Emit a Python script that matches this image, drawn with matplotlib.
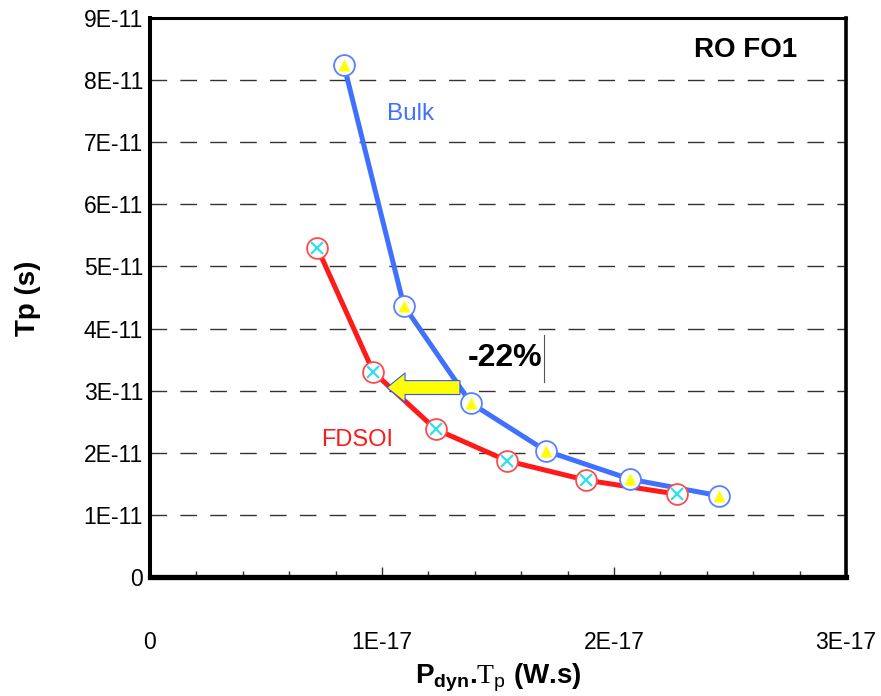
import matplotlib
matplotlib.use("Agg")
import matplotlib.pyplot as plt
from matplotlib.patches import FancyArrowPatch
from matplotlib.ticker import MultipleLocator, FixedLocator, FixedFormatter

plt.rcParams['font.family'] = ['Liberation Sans', 'DejaVu Sans']
plt.rcParams['mathtext.fontset'] = 'custom'
plt.rcParams['mathtext.rm'] = 'Liberation Serif'
plt.rcParams['mathtext.bf'] = 'Liberation Sans:bold'
plt.rcParams['mathtext.sf'] = 'Liberation Sans'

# Data
bulk_x = [8.36e-18, 1.094e-17, 1.383e-17, 1.707e-17, 2.069e-17, 2.454e-17]
bulk_y = [8.24e-11, 4.37e-11, 2.80e-11, 2.03e-11, 1.575e-11, 1.307e-11]
fdsoi_x = [7.21e-18, 9.63e-18, 1.231e-17, 1.540e-17, 1.879e-17, 2.272e-17]
fdsoi_y = [5.30e-11, 3.30e-11, 2.38e-11, 1.87e-11, 1.56e-11, 1.334e-11]

x_ticks = [0, 1e-17, 2e-17, 3e-17]
x_tick_labels = ['0', '1E-17', '2E-17', '3E-17']
y_ticks = [0, 1e-11, 2e-11, 3e-11, 4e-11, 5e-11, 6e-11, 7e-11, 8e-11, 9e-11]
y_tick_labels = ['0', '1E-11', '2E-11', '3E-11', '4E-11', '5E-11', '6E-11', '7E-11', '8E-11', '9E-11']

BLUE = '#4070ff'
BLUE_EDGE = '#5a80ff'
RED = '#ff1a1a'
RED_EDGE = '#ff4a4a'
CYAN = '#30dff0'
YELLOW = '#ffff00'

fig = plt.figure(figsize=(8.81, 6.96), dpi=100)
ax = fig.add_axes([150/881, 1-577/696, (846-150)/881, (577-18)/696])

ax.set_xlim(0, 3e-17)
ax.set_ylim(0, 9e-11)

# grid
ax.set_axisbelow(True)
ax.yaxis.grid(True, color='#333333', linewidth=1.0, linestyle=(0, (12, 9.5)))
ax.xaxis.grid(False)

# lines
ax.plot(bulk_x, bulk_y, color=BLUE, lw=3.6, zorder=3, solid_capstyle='round')
ax.plot(fdsoi_x, fdsoi_y, color=RED, lw=3.6, zorder=3, solid_capstyle='round')

# markers
ax.plot(bulk_x, bulk_y, ls='none', marker='o', ms=15, mfc='white', mec=BLUE_EDGE, mew=1.3, zorder=4)
ax.plot(bulk_x, bulk_y, ls='none', marker='^', ms=9, mfc=YELLOW, mec='none', zorder=5)
ax.plot(fdsoi_x, fdsoi_y, ls='none', marker='o', ms=15, mfc='white', mec=RED_EDGE, mew=1.3, zorder=4)
ax.plot(fdsoi_x, fdsoi_y, ls='none', marker='x', ms=8, mec=CYAN, mew=1.6, zorder=5)

# arrow
arr = FancyArrowPatch((1.336e-17, 3.05e-11), (1.0216e-17, 3.05e-11),
                      arrowstyle='simple,head_width=2.1,head_length=1.3,tail_width=1.0',
                      mutation_scale=10, fc=YELLOW, ec='#3355ff', lw=0.8,
                      shrinkA=0, shrinkB=0, zorder=6)
ax.add_patch(arr)

# texts
ax.text(1.125e-17, 7.455e-11, 'Bulk', color=BLUE, fontsize=17.5, ha='center', va='center')
ax.text(0.892e-17, 2.206e-11, 'FDSOI', color=RED, fontsize=17, ha='center', va='center')
ax.text(1.371e-17, 3.527e-11, '-22%', color='black', fontsize=23, fontweight='bold',
        ha='left', va='center', zorder=7)
ax.plot([1.698e-17, 1.698e-17], [3.14e-11, 3.897e-11], color='#555555', lw=0.8, zorder=7)
ax.text(2.565e-17, 8.486e-11, 'RO FO1', color='black', fontsize=20, fontweight='bold',
        ha='center', va='center')

# ticks
ax.xaxis.set_major_locator(FixedLocator(x_ticks))
ax.xaxis.set_major_formatter(FixedFormatter(x_tick_labels))
ax.xaxis.set_minor_locator(MultipleLocator(0.2e-17))
ax.tick_params(axis='x', which='major', direction='in', length=7, width=1, color='#333333',
               labelsize=16.5, pad=39)
ax.tick_params(axis='x', which='minor', direction='in', length=4.5, width=1, color='#333333')
ax.yaxis.set_major_locator(FixedLocator(y_ticks))
ax.yaxis.set_major_formatter(FixedFormatter(y_tick_labels))
ax.tick_params(axis='y', which='major', length=0, labelsize=16.5, pad=5)
ax.tick_params(axis='y', which='minor', length=0)

# spines
ax.spines['left'].set_linewidth(2.9)
ax.spines['bottom'].set_linewidth(3.8)
ax.spines['top'].set_linewidth(2.2)
ax.spines['right'].set_linewidth(2.6)
for s in ax.spines.values():
    s.set_color('black')
    s.set_zorder(8)

# axis labels
fig.text(498/881, 1-678/696, r'$\mathbf{P_{dyn}}$.$\mathrm{T}_{\mathsf{p}}$ (W.s)',
         fontsize=20, fontweight='bold', ha='center', va='center')
fig.text(28/881, 1-298/696, 'Tp (s)', fontsize=20, fontweight='bold', rotation=90,
         ha='center', va='center')

fig.savefig('out.png', dpi=100)
